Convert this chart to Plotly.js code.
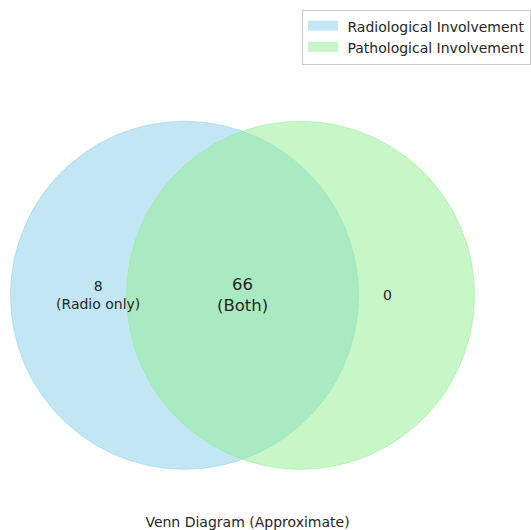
<!DOCTYPE html>
<html>
<head>
<meta charset="utf-8">
<script src="https://cdn.plot.ly/plotly-3.0.1.min.js"></script>
<style>html,body{margin:0;padding:0;background:#fff;}#chart{width:531px;height:530px;}</style>
</head>
<body>
<div id="chart"></div>
<script>
// Data
var setNames = ["Radiological Involvement", "Pathological Involvement"];
var circleCenterX = [0.4, 0.6];
var circleCenterY = [0.5, 0.5];
var circleRadius = [0.3, 0.3];
var setColors = ["rgba(135,206,235,0.5)", "rgba(144,238,144,0.5)"];
var legendColors = ["rgb(195,231,245)", "rgb(200,246,200)"];
var regionValues = [8, 66, 0];
var regionNames = ["Radio only", "Both", ""];
var regionX = [0.25, 0.5, 0.75];
var regionY = [0.5, 0.5, 0.5];
var regionFontSizes = [14, 16.5, 14];
var chartTitle = "Venn Diagram (Approximate)";

var traces = [];
for (var i = 0; i < setNames.length; i++) {
  var xs = [], ys = [];
  var n = 360;
  for (var k = 0; k <= n; k++) {
    var t = 2 * Math.PI * k / n;
    xs.push(circleCenterX[i] + circleRadius[i] * Math.cos(t));
    ys.push(circleCenterY[i] + circleRadius[i] * Math.sin(t));
  }
  traces.push({
    type: "scatter", mode: "lines", x: xs, y: ys,
    fill: "toself", fillcolor: setColors[i],
    line: {color: setColors[i], width: 1},
    name: setNames[i], showlegend: false, hoverinfo: "skip"
  });
}
// legend entries (swatches)
for (var m = 0; m < setNames.length; m++) {
  traces.push({
    type: "scatter", mode: "lines", x: [null], y: [null],
    fill: "toself", fillcolor: legendColors[m],
    line: {color: legendColors[m], width: 8},
    name: "&nbsp;" + setNames[m], showlegend: true, hoverinfo: "skip"
  });
}

var annotations = [];
for (var j = 0; j < regionValues.length; j++) {
  var txt = String(regionValues[j]);
  if (regionNames[j]) txt += "<br>(" + regionNames[j] + ")";
  annotations.push({
    x: regionX[j], y: regionY[j], xref: "x", yref: "y",
    text: txt, showarrow: false,
    font: {family: "DejaVu Sans", size: regionFontSizes[j], color: "#262626"},
    xanchor: "center", yanchor: "middle"
  });
}

var layout = {
  width: 531, height: 530,
  margin: {l: 0, r: 0, t: 0, b: 0},
  paper_bgcolor: "#fff", plot_bgcolor: "#fff",
  font: {family: "DejaVu Sans", color: "#262626"},
  xaxis: {range: [0.0819, 0.9974], visible: false, fixedrange: true},
  yaxis: {range: [0.0953, 1.0091], visible: false, fixedrange: true},
  showlegend: true,
  legend: {
    x: 302 / 531, y: 1 - 10 / 530, xanchor: "left", yanchor: "top",
    bgcolor: "rgba(255,255,255,0.8)", bordercolor: "#cccccc", borderwidth: 1,
    font: {family: "DejaVu Sans", size: 14, color: "#262626"},
    tracegroupgap: 0
  },
  title: {
    text: chartTitle, x: 247.5 / 531, xanchor: "center",
    y: 1 - 522 / 530, yanchor: "middle", yref: "container",
    font: {family: "DejaVu Sans", size: 14, color: "#262626"}
  },
  annotations: annotations
};

Plotly.newPlot("chart", traces, layout, {displayModeBar: false, staticPlot: true});
</script>
</body>
</html>
